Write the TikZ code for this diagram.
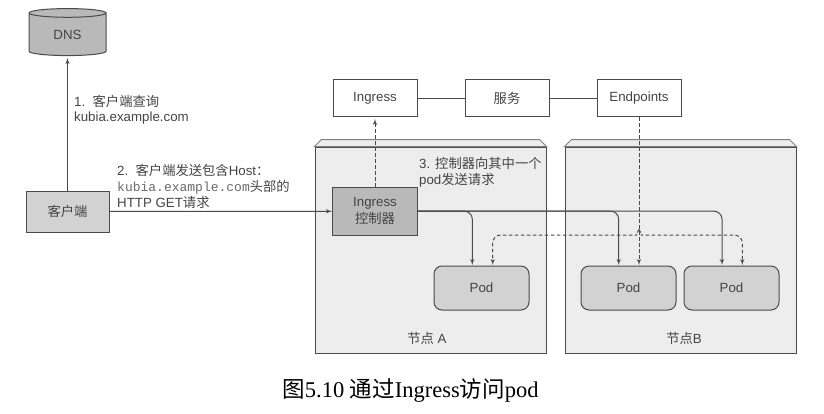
\documentclass[tikz,border=0pt]{standalone}
\usepackage{fontspec}
\setmainfont{Liberation Sans}
\setmonofont{Liberation Mono}
\newfontfamily\cjk{Noto Sans CJK SC}
\newfontfamily\capfont{Liberation Serif}
\usepackage{tikz}
\usetikzlibrary{shapes,shapes.geometric,arrows}
\usetikzlibrary{calc}
\definecolor{inkgray}{HTML}{444444}
\definecolor{linegray}{HTML}{4A4A4A}
\definecolor{nodegray}{HTML}{EDEDED}
\definecolor{podgray}{HTML}{D2D2D2}
\definecolor{ctrlgray}{HTML}{B9B9B9}
\newcommand{\zh}[1]{{\cjk #1}}
\tikzstyle{block} = [draw=linegray, line width=1pt, fill=white, rectangle,
    inner sep=0pt, minimum height=37pt, minimum width=84pt]
\tikzstyle{ctrl} = [block, fill=ctrlgray, minimum height=48pt, minimum width=85pt, align=center]
\tikzstyle{client} = [block, fill=podgray, minimum height=41pt, minimum width=83pt]
\tikzstyle{pod} = [block, fill=podgray, rounded corners=8pt, minimum height=44pt, minimum width=95pt]
\tikzstyle{host} = [draw=linegray, line width=1pt, fill=nodegray, rectangle, inner sep=0pt,
    minimum height=206pt, minimum width=231pt]
\tikzstyle{note} = [anchor=west, align=left, inner sep=0pt]
\tikzstyle{flow} = [draw=linegray, line width=1pt, ->, rounded corners=8pt]
\tikzstyle{ctl} = [flow, dashed, dash pattern=on 3.5pt off 2.5pt]

\begin{document}
\begin{tikzpicture}[x=1pt,y=-1pt,>=latex',text=inkgray,
    every node/.append style={font=\fontsize{13.3}{15}\selectfont}]
    \useasboundingbox (0,0) rectangle (824,413);

    % the two worker machines, with a bevelled top edge
    \node[host] at (430.5,250) (hostA) {};
    \node[host] at (680.5,250) (hostB) {};
    \foreach \h in {hostA,hostB} {
        \filldraw[draw=linegray!70, fill=nodegray, line width=1pt] (\h.north west)
            -- ($(\h.north west)+(7,-7)$) -- ($(\h.north east)+(-7,-7)$) -- (\h.north east) -- cycle;
    }
    \node at (427,338) (labelA) {\zh{节点} A};
    \node at (684,338) (labelB) {\zh{节点}B};

    \node[cylinder, shape border rotate=90, aspect=0.31, draw=linegray, line width=1pt, fill=ctrlgray,
        minimum width=77pt, minimum height=47pt, inner sep=0pt] at (67.5,34.5) (dns) {\raisebox{-5pt}{DNS}};
    \node[client] at (67.5,211.5) (client) {\zh{客户端}};

    \node[block] at (375,98) (ingress) {Ingress};
    \node[block] at (507,98) (service) {\zh{服务}};
    \node[block] at (639,98) (endpoints) {Endpoints};
    \draw[draw=linegray, line width=1pt] (ingress) -- (service);
    \draw[draw=linegray, line width=1pt] (service) -- (endpoints);

    \node[ctrl] at (375,211.2) (controller) {Ingress\\[2pt]\zh{控制器}};
    \node[pod] at (481.5,288) (podA) {Pod};
    \node[pod] at (628.5,288) (podB) {Pod};
    \node[pod] at (731.5,288) (podC) {Pod};

    \node[note] at (74,110) (step1) {1.\ \ \zh{客户端查询}\\[0pt]kubia.example.com};
    \node[note] at (117,186) (step2) {%
        2.\ \ \zh{客户端发送包含}Host\zh{：}\\[1pt]
        {\fontsize{13}{15}\selectfont\ttfamily\color{inkgray!80}kubia.example.com}\zh{头部的}\\[1pt]
        HTTP GET\zh{请求}};
    \node[note] at (419,172) (step3) {3. \zh{控制器向其中一个}\\[1pt]pod\zh{发送请求}};

    \node[anchor=center, inner sep=0pt, text=black] at (410.5,390) (caption)
        {\fontsize{22.5}{26}\selectfont\capfont \zh{图}5.10 \zh{通过}Ingress\zh{访问}pod};

    \coordinate (inA) at (472.3,265);
    \coordinate (inB) at (618.7,265);
    \coordinate (inC) at (722,265);
    \coordinate (ctlA) at (492.7,265);
    \coordinate (ctlB) at (639,265);
    \coordinate (ctlC) at (742.3,265);
    \coordinate (fork) at (639,229.5);

    \draw[flow] (client.north -| dns.south) -- ($(dns.south)+(0,2)$);
    \draw[flow] (client) -- (controller);
    \draw[flow] (controller.east) -| (inA);
    \draw[flow] (controller.east) -| (inB);
    \draw[flow] (controller.east) -| (inC);

    \draw[ctl] (controller.north) -- ($(ingress.south)+(0,2)$);
    \draw[ctl] (endpoints.south) -- (ctlB);
    \draw[ctl] (fork) .. controls (637,234) and (634,235) .. (629,235) -| (ctlA);
    \draw[ctl] (fork) .. controls (641,234) and (644,235) .. (649,235) -| (ctlC);
\end{tikzpicture}
\end{document}
